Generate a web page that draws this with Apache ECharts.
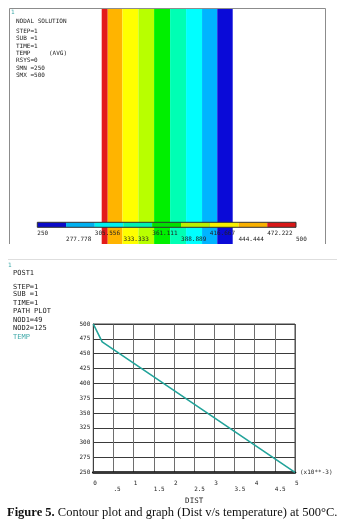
<!DOCTYPE html>
<html>
<head>
<meta charset="utf-8">
<script src="https://cdn.jsdelivr.net/npm/echarts@6/dist/echarts.min.js"></script>
<style>
  html, body { margin: 0; padding: 0; background: #fff; }
  #main { width: 356px; height: 529px; }
</style>
</head>
<body>
<div id="main"></div>
<script>
// 等值线色带（距离 x10^-3，从热端到冷端）
var bandEdges = [0, 0.23, 0.79, 1.40, 2.00, 2.61, 3.22, 3.83, 4.41, 5.0];
var bandColors = ['#e31b1b', '#ffb400', '#ffff00', '#b8ff00', '#00f000', '#00ffb4', '#00ffff', '#00b4ff', '#0a0ad8'];

// 图例色条（冷到热）
var legendColors = ['#0a0ac8', '#00b0f0', '#00f0f0', '#00f0b0', '#00e000', '#b8f000', '#f8f000', '#f8b000', '#d81818'];
var legendLabels = ['250', '277.778', '305.556', '333.333', '361.111', '388.889', '416.667', '444.444', '472.222', '500'];

// 路径曲线 DIST - TEMP
var distVals = [0, 0.22, 5];
var tempVals = [500, 470, 250];
var xTickLabels = ['0', '.5', '1', '1.5', '2', '2.5', '3', '3.5', '4', '4.5', '5'];

var topNotes = ['NODAL SOLUTION', '', 'STEP=1', 'SUB =1', 'TIME=1', 'TEMP', 'RSYS=0', 'SMN =250', 'SMX =500'];
var pathNotes = ['POST1', '', 'STEP=1', 'SUB =1', 'TIME=1', 'PATH PLOT', 'NOD1=49', 'NOD2=125'];

var mono = 'DejaVu Sans Mono';
var teal = '#3fa9a9';
var lineTeal = '#22a39a';

var myChart = echarts.init(document.getElementById('main'));

var bandData = [];
for (var i = 0; i < bandColors.length; i++) {
    bandData.push([bandEdges[i], bandEdges[i + 1], i]);
}
var legendData = [];
for (var j = 0; j < legendColors.length; j++) {
    legendData.push([j, j + 1, j]);
}
var lineData = distVals.map(function (d, k) { return [d, tempVals[k]]; });

function rectItem(colors) {
    return function (params, api) {
        var p0 = api.coord([api.value(0), 1]);
        var p1 = api.coord([api.value(1), 0]);
        return {
            type: 'rect',
            shape: { x: p0[0], y: p0[1], width: p1[0] - p0[0], height: p1[1] - p0[1] },
            style: { fill: colors[api.value(2)] }
        };
    };
}

var graphics = [];
// 上图边框
graphics.push({ type: 'polyline', shape: { points: [[9.5, 244], [9.5, 8.5], [325.5, 8.5], [325.5, 244]] },
    style: { stroke: '#8c8c8c', lineWidth: 1, fill: null }, z: 20 });
graphics.push({ type: 'text', left: 11, top: 9, style: { text: '1', font: '6px ' + mono, fill: teal } });
var ty = [21, 0, 31, 38.5, 46, 53, 60.5, 68, 75];
topNotes.forEach(function (t, k) {
    if (!t) return;
    graphics.push({ type: 'text', x: 16, y: ty[k], style: { text: t, font: '6px ' + mono, fill: '#222', verticalAlign: 'middle' } });
});
graphics.push({ type: 'text', x: 49, y: 53, style: { text: '(AVG)', font: '6px ' + mono, fill: '#222', verticalAlign: 'middle' } });

// 下图
graphics.push({ type: 'line', shape: { x1: 8, y1: 259.5, x2: 337, y2: 259.5 }, style: { stroke: '#dedede', lineWidth: 1 } });
graphics.push({ type: 'text', x: 8, y: 265, style: { text: '1', font: '6px ' + mono, fill: teal, verticalAlign: 'middle' } });
var py = [273.3, 0, 286.7, 294.5, 303, 311.5, 320, 328.3];
pathNotes.forEach(function (t, k) {
    if (!t) return;
    graphics.push({ type: 'text', x: 13, y: py[k], style: { text: t, font: '7px ' + mono, fill: '#222', verticalAlign: 'middle' } });
});
graphics.push({ type: 'text', x: 13, y: 337, style: { text: 'TEMP', font: '7px ' + mono, fill: teal, verticalAlign: 'middle' } });

// 图注
graphics.push({
    type: 'text', x: 7, y: 513,
    style: {
        text: '{b|Figure 5.} Contour plot and graph (Dist v/s temperature) at 500°C.',
        font: '12.5px "Liberation Serif"', fill: '#111', verticalAlign: 'middle',
        rich: { b: { fontWeight: 'bold', fontSize: 12.5, fontFamily: 'Liberation Serif', fill: '#111' } }
    }
});

var option = {
    animation: false,
    backgroundColor: '#fff',
    grid: [
        { left: 101.7, top: 8, width: 131, height: 236 },
        { left: 37.3, top: 222.3, width: 258.7, height: 5, show: true, borderColor: '#333', borderWidth: 1, backgroundColor: 'transparent', z: 6 },
        { left: 93.3, top: 324, width: 201.7, height: 148.3, show: true, borderColor: '#444', borderWidth: 1, backgroundColor: 'transparent', z: 1 }
    ],
    xAxis: [
        { gridIndex: 0, type: 'value', min: 0, max: 5, show: false },
        {
            gridIndex: 1, type: 'value', min: 0, max: 9, interval: 1, z: 10,
            axisLine: { show: false }, axisTick: { show: false }, splitLine: { show: false },
            axisLabel: {
                align: 'left', margin: 3, color: '#222', fontFamily: mono, fontSize: 6,
                formatter: function (v) {
                    var lbl = legendLabels[Math.round(v)];
                    return Math.round(v) % 2 === 0 ? '{a|' + lbl + '}' : '{b|' + lbl + '}';
                },
                rich: {
                    a: { fontFamily: mono, fontSize: 6, color: '#222' },
                    b: { fontFamily: mono, fontSize: 6, color: '#222', padding: [6, 0, 0, 0] }
                }
            }
        },
        {
            gridIndex: 2, type: 'value', min: 0, max: 5, interval: 0.5,
            axisLine: { show: true, onZero: false, lineStyle: { color: '#000', width: 2.5 } },
            axisTick: { show: false },
            splitLine: { show: true, lineStyle: { color: '#6e6e6e', width: 1 } },
            name: 'DIST', nameLocation: 'middle', nameGap: 25,
            nameTextStyle: { fontFamily: mono, fontSize: 7.5, color: '#222' },
            axisLabel: {
                align: 'left', margin: 8, color: '#222', fontFamily: mono, fontSize: 6,
                formatter: function (v) {
                    var idx = Math.round(v / 0.5);
                    var lbl = xTickLabels[idx];
                    return idx % 2 === 0 ? '{a|' + lbl + '}' : '{b|' + lbl + '}';
                },
                rich: {
                    a: { fontFamily: mono, fontSize: 6, color: '#222' },
                    b: { fontFamily: mono, fontSize: 6, color: '#222', padding: [6, 0, 0, 0] }
                }
            }
        },
        {
            gridIndex: 2, type: 'value', min: 0, max: 5, position: 'bottom',
            axisLine: { show: false }, axisTick: { show: false }, axisLabel: { show: false }, splitLine: { show: false },
            name: '(x10**-3)', nameLocation: 'end', nameGap: 5,
            nameTextStyle: { fontFamily: mono, fontSize: 6, color: '#222', verticalAlign: 'middle', padding: [0, 0, 3, 0] }
        }
    ],
    yAxis: [
        { gridIndex: 0, type: 'value', min: 0, max: 1, show: false },
        { gridIndex: 1, type: 'value', min: 0, max: 1, show: false },
        {
            gridIndex: 2, type: 'value', min: 250, max: 500, interval: 25,
            axisLine: { show: true, lineStyle: { color: '#333', width: 1 } },
            axisTick: { show: false },
            splitLine: { show: true, lineStyle: { color: '#3a3a3a', width: 1 } },
            axisLabel: { margin: 3, color: '#222', fontFamily: mono, fontSize: 6 }
        }
    ],
    graphic: graphics,
    series: [
        {
            type: 'custom', xAxisIndex: 0, yAxisIndex: 0, z: 1,
            renderItem: rectItem(bandColors),
            encode: { x: [0, 1] },
            data: bandData
        },
        {
            type: 'custom', xAxisIndex: 1, yAxisIndex: 1, z: 5,
            renderItem: rectItem(legendColors),
            encode: { x: [0, 1] },
            data: legendData
        },
        {
            type: 'line', xAxisIndex: 2, yAxisIndex: 2, z: 8,
            showSymbol: false,
            lineStyle: { color: lineTeal, width: 1.6 },
            data: lineData
        }
    ]
};
myChart.setOption(option);
</script>
</body>
</html>
